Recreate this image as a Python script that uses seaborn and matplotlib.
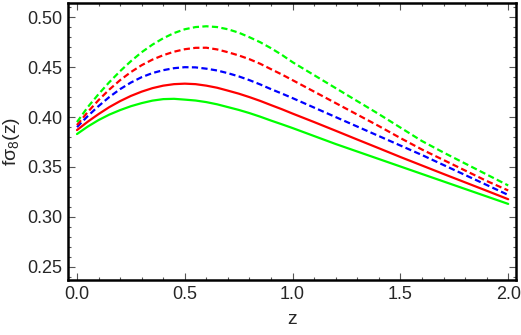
import numpy as np
import matplotlib
matplotlib.use('Agg')
import matplotlib.pyplot as plt
import seaborn as sns
from matplotlib.ticker import MultipleLocator, FormatStrFormatter

# values (finer steps up to z = 1, where the curves bend)
z = [0.0, 0.05, 0.1, 0.15, 0.2, 0.25, 0.3, 0.35, 0.4, 0.45, 0.5,
     0.55, 0.6, 0.65, 0.7, 0.75, 0.8, 0.85, 0.9, 0.95, 1.0,
     1.1, 1.2, 1.3, 1.4, 1.5, 1.6, 1.7, 1.8, 1.9, 2.0]

green_dashed = [0.395, 0.410, 0.423, 0.435, 0.446, 0.456, 0.465, 0.4726, 0.479, 0.4842, 0.488,
                0.4902, 0.491, 0.4902, 0.488, 0.4846, 0.480, 0.475, 0.469, 0.4624, 0.455,
                0.442, 0.429, 0.416, 0.403, 0.3895, 0.376, 0.3645, 0.3535, 0.3425, 0.3315]
red_dashed = [0.392, 0.4051, 0.417, 0.4276, 0.437, 0.4451, 0.452, 0.4576, 0.462, 0.4655, 0.468,
              0.4694, 0.4695, 0.4678, 0.465, 0.4618, 0.458, 0.4534, 0.448, 0.4427, 0.437,
              0.4255, 0.414, 0.4025, 0.391, 0.379, 0.3675, 0.357, 0.3465, 0.336, 0.3265]
blue_dashed = [0.390, 0.401, 0.411, 0.4201, 0.428, 0.4346, 0.440, 0.4441, 0.447, 0.449, 0.450,
               0.4498, 0.4485, 0.4467, 0.444, 0.4408, 0.437, 0.4327, 0.428, 0.4236, 0.419,
               0.4095, 0.400, 0.3905, 0.381, 0.3715, 0.362, 0.352, 0.342, 0.332, 0.322]
red_solid = [0.387, 0.3954, 0.403, 0.410, 0.416, 0.4212, 0.4255, 0.429, 0.4315, 0.433, 0.4335,
             0.433, 0.4315, 0.4294, 0.4265, 0.4235, 0.420, 0.4162, 0.412, 0.4079, 0.4035,
             0.395, 0.3863, 0.3775, 0.3688, 0.360, 0.3515, 0.343, 0.3346, 0.3262, 0.3177]
green_solid = [0.383, 0.3905, 0.397, 0.4025, 0.407, 0.4109, 0.414, 0.4165, 0.418, 0.4183, 0.4175,
               0.4166, 0.415, 0.4128, 0.410, 0.4072, 0.404, 0.4004, 0.3965, 0.3928, 0.389,
               0.381, 0.373, 0.3655, 0.358, 0.3505, 0.343, 0.3355, 0.328, 0.3205, 0.313]

sns.set_style('ticks')
plt.rcParams['font.family'] = ['Liberation Sans', 'DejaVu Sans']
plt.rcParams['mathtext.fontset'] = 'custom'
plt.rcParams['mathtext.rm'] = 'Liberation Sans'
plt.rcParams['mathtext.it'] = 'Liberation Sans'

fig = plt.figure(figsize=(5.21, 3.35), dpi=100)
ax = fig.add_axes([0.1305, 0.164, 0.859, 0.827])

curves = [
    (green_solid, '#00ff00', '-'),
    (red_solid, '#ff0000', '-'),
    (blue_dashed, '#0000ff', '--'),
    (red_dashed, '#ff0000', '--'),
    (green_dashed, '#00ff00', '--'),
]
for vals, col, ls in curves:
    sns.lineplot(x=z, y=vals, color=col, linewidth=1.6, ax=ax)
    ln = ax.lines[-1]
    ln.set_solid_joinstyle('round')
    if ls == '--':
        ln.set_dashes((2.8, 1.5))

ax.set_xlim(-0.0417, 2.034)
ax.set_ylim(0.2367, 0.5143)

ax.xaxis.set_major_locator(MultipleLocator(0.5))
ax.xaxis.set_minor_locator(MultipleLocator(0.1))
ax.yaxis.set_major_locator(MultipleLocator(0.05))
ax.yaxis.set_minor_locator(MultipleLocator(0.01))
ax.xaxis.set_major_formatter(FormatStrFormatter('%.1f'))
ax.yaxis.set_major_formatter(FormatStrFormatter('%.2f'))

ax.tick_params(which='both', direction='in', top=True, right=True,
               color='#555555', labelsize=13, pad=4)
ax.tick_params(which='major', length=5, width=0.8)
ax.tick_params(which='minor', length=2.5, width=0.8)

for sp in ax.spines.values():
    sp.set_linewidth(1.8)
    sp.set_color('black')

ax.set_xlabel('z', fontsize=14, labelpad=6)
ax.set_ylabel(r'f$\sigma_8$(z)', fontsize=14, labelpad=4)

fig.savefig('out.png', dpi=100)
